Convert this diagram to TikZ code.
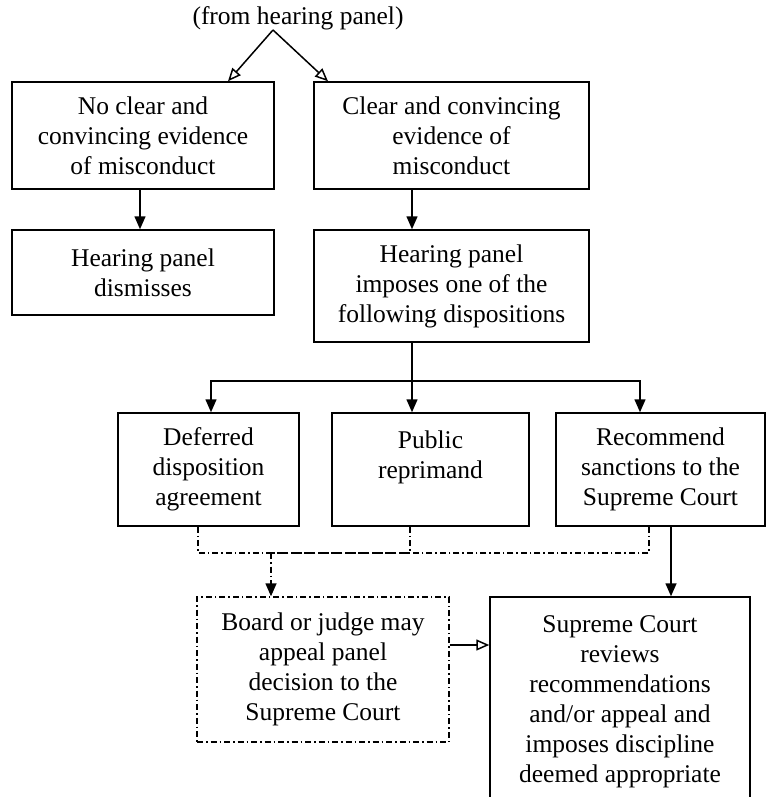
\documentclass[tikz,border=0pt]{standalone}
\usepackage{fontspec}
\setmainfont{Liberation Serif}
\usetikzlibrary{arrows.meta,positioning}

\begin{document}
\begin{tikzpicture}[x = 1pt, y = -1pt,
  box/.style = {draw, line width = 1.5pt, shape = rectangle, inner sep = 0pt, align = center, font = \fontsize{25.5}{30}\selectfont},
  dashdot/.style = {line width = 1.4pt, dash pattern = on 6pt off 3pt on 1.5pt off 3pt},
  arr/.style = {line width = 1.5pt, -{Triangle[length = 13pt, width = 11pt]}},
  oarr/.style = {line width = 1.5pt, -{Triangle[open, length = 13pt, width = 11pt]}}]
\clip (0,0) rectangle (766,797);
\node[font = \fontsize{25.5}{30}\selectfont] (0) at (298,18) {(from hearing panel)};
\node[box, minimum width = 262pt, minimum height = 107pt] (1) at (143,135.5) {No clear and\\convincing evidence\\of misconduct};
\node[box, minimum width = 275pt, minimum height = 107pt] (2) at (451.5,135.5) {Clear and convincing\\evidence of\\misconduct};
\node[box, minimum width = 262pt, minimum height = 85pt] (3) at (143,272.5) {Hearing panel\\dismisses};
\node[box, minimum width = 275pt, minimum height = 112pt] (4) at (451.5,286) {Hearing panel\\imposes one of the\\following dispositions};
\node[box, minimum width = 181pt, minimum height = 113pt] (5) at (208.5,469.5) {Deferred\\disposition\\agreement};
\node[box, minimum width = 197pt, minimum height = 113pt] (6) at (430.5,469.5) {Public\\reprimand\\~};
\node[box, minimum width = 209pt, minimum height = 113pt] (7) at (660.5,469.5) {Recommend\\sanctions to the\\Supreme Court};
\node[box, dashdot, minimum width = 252pt, minimum height = 145pt] (8) at (323,669.5) {Board or judge may\\appeal panel\\decision to the\\Supreme Court};
\node[box, minimum width = 260pt, minimum height = 209pt] (9) at (620,701.5) {Supreme Court\\reviews\\recommendations\\and/or appeal and\\imposes discipline\\deemed appropriate};

\coordinate (fork) at (273,30);
\coordinate (split) at (412,381);
\coordinate (join) at (271,553);

\draw[oarr] (fork) -- ([xshift = 85pt]1.north);
\draw[oarr] (fork) -- ([xshift = -123.5pt]2.north);
\draw[arr] ([xshift = -3pt]1.south) -- ([xshift = -3pt]3.north);
\draw[arr] ([xshift = -39.5pt]2.south) -- ([xshift = -39.5pt]4.north);
\draw[arr] ([xshift = -39.5pt]4.south) -- ([xshift = -18.5pt]6.north);
\draw[arr] (split) -| ([xshift = 2.5pt]5.north);
\draw[arr] (split) -| ([xshift = -20.5pt]7.north);
\draw[dashdot] ([xshift = -10.5pt]5.south) |- (join);
\draw[dashdot] ([xshift = -20.5pt]6.south) |- (join);
\draw[dashdot] ([xshift = -11.5pt]7.south) |- (join);
\draw[dashdot, -{Triangle[length = 13pt, width = 11pt]}] (join) -- ([xshift = -52pt]8.north);
\draw[arr] ([xshift = 10.5pt]7.south) -- ([xshift = 51pt]9.north);
\draw[oarr] ([yshift = 24.5pt]8.east) -- ([yshift = 24.5pt]8.east -| 9.west);
\end{tikzpicture}
\end{document}
